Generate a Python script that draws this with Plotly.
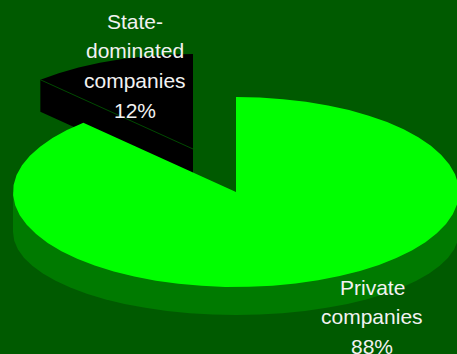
import numpy as np
import plotly.graph_objects as go

# Ownership shares, in percent
categories = ["Private companies", "State-dominated companies"]
shares = [88, 12]
label_lines = [["Private", "companies", "88%"], ["State-", "dominated", "companies", "12%"]]

BACKGROUND = "#005a00"
TOP_COLOR = "#00ff00"
RIM_COLOR = "#007a00"
EXPLODED_COLOR = "#000000"
EDGE_COLOR = "#004a00"
TEXT_COLOR = "#f2f2f2"

# Projected pie geometry, in pixels of the plotting area
RX, RY = 223, 95
CENTER = (236, 192)
RIM_CENTER_Y, RIM_RY = 232, 83
EXPLODED_CENTER = (193, 149)
EXPLODED_DEPTH = 32


def arc(cx, cy, ry, start_deg, end_deg, step_deg=6):
    """Points on the tilted circle; angles run clockwise from twelve o'clock."""
    n = max(2, int(abs(end_deg - start_deg) / step_deg) + 1)
    t = np.radians(np.linspace(start_deg, end_deg, n))
    return cx + RX * np.sin(t), cy - ry * np.cos(t)


def polygon(xs, ys, color):
    return go.Scatter(x=xs, y=ys, mode="lines", fill="toself", fillcolor=color,
                      line=dict(width=0, color=color), hoverinfo="skip", showlegend=False)


split_deg = 360 * shares[0] / sum(shares)
fig = go.Figure()

# Exploded slice: side wall plus top face, drawn first so the large slice overlaps it
ex, ey = arc(*EXPLODED_CENTER, RY, split_deg, 360)
cx0, cy0 = EXPLODED_CENTER
fig.add_trace(polygon(
    np.r_[cx0, ex, cx0, ex[0], ex[0], cx0],
    np.r_[cy0, ey, cy0, ey[0], ey[0] + EXPLODED_DEPTH, cy0 + EXPLODED_DEPTH],
    EXPLODED_COLOR))
fig.add_trace(go.Scatter(x=[ex[0], cx0], y=[ey[0], cy0], mode="lines",
                         line=dict(width=1, color=EDGE_COLOR), hoverinfo="skip", showlegend=False))

# Rim of the large slice: lower half of the pie, extruded downwards
rx, ry = arc(CENTER[0], RIM_CENTER_Y, RIM_RY, 270, 90)
fig.add_trace(polygon(np.r_[CENTER[0] - RX, rx, CENTER[0] + RX],
                      np.r_[CENTER[1], ry, CENTER[1]], RIM_COLOR))

# Top face of the large slice
tx, ty = arc(*CENTER, RY, 0, split_deg)
fig.add_trace(polygon(np.r_[CENTER[0], tx, CENTER[0]], np.r_[CENTER[1], ty, CENTER[1]], TOP_COLOR))

# Slice labels, one annotation per line
annotations = []
for lines, x, y0 in zip(label_lines, (372, 135), (287, 21)):
    for i, line in enumerate(lines):
        annotations.append(dict(x=x, y=y0 + i * 29.7, text=line, showarrow=False,
                                xanchor="center", yanchor="middle", xref="x", yref="y",
                                font=dict(family="Liberation Sans", size=21, color=TEXT_COLOR)))

fig.update_layout(
    width=457, height=354, margin=dict(l=0, r=0, t=0, b=0),
    paper_bgcolor=BACKGROUND, plot_bgcolor=BACKGROUND, showlegend=False,
    annotations=annotations,
    xaxis=dict(range=[0, 457], visible=False, fixedrange=True),
    yaxis=dict(range=[354, 0], visible=False, fixedrange=True),
)
fig.write_html("out.html", config=dict(displayModeBar=False))
